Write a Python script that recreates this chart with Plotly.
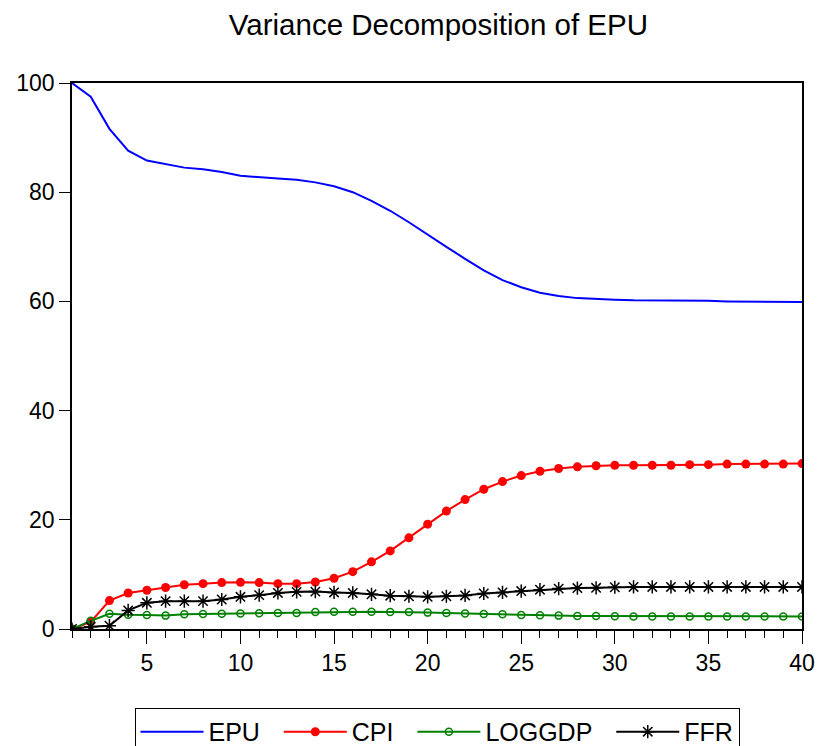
import plotly.graph_objects as go

periods = list(range(1, 41))

epu = [100.0, 97.5, 91.6, 87.6, 85.8, 85.1, 84.5, 84.2, 83.7, 83.0,
       82.7, 82.5, 82.3, 81.8, 81.1, 80.0, 78.4, 76.6, 74.5, 72.2,
       70.0, 67.8, 65.7, 63.9, 62.6, 61.6, 61.0, 60.6, 60.4, 60.3,
       60.2, 60.2, 60.2, 60.1, 60.1, 60.0, 60.0, 60.0, 60.0, 59.9]

cpi = [0.0, 1.3, 5.2, 6.6, 7.1, 7.6, 8.1, 8.3, 8.5, 8.55,
       8.5, 8.3, 8.3, 8.6, 9.3, 10.5, 12.3, 14.3, 16.7, 19.2,
       21.6, 23.7, 25.6, 27.0, 28.1, 28.9, 29.4, 29.7, 29.9, 30.0,
       30.0, 30.0, 30.0, 30.1, 30.1, 30.2, 30.2, 30.2, 30.2, 30.3]

loggdp = [0.0, 1.5, 2.8, 2.6, 2.55, 2.45, 2.7, 2.75, 2.8, 2.85,
          2.9, 2.95, 2.95, 3.1, 3.15, 3.15, 3.15, 3.1, 3.1, 3.0,
          2.95, 2.85, 2.75, 2.7, 2.55, 2.5, 2.45, 2.4, 2.4, 2.35,
          2.3, 2.3, 2.3, 2.3, 2.3, 2.3, 2.3, 2.3, 2.3, 2.3]

ffr = [0.0, 0.4, 0.6, 3.4, 4.8, 5.1, 5.1, 5.1, 5.4, 5.9,
       6.2, 6.6, 6.8, 6.85, 6.7, 6.6, 6.35, 6.1, 6.0, 5.9,
       6.0, 6.15, 6.5, 6.7, 6.95, 7.2, 7.4, 7.5, 7.55, 7.65,
       7.7, 7.7, 7.7, 7.7, 7.7, 7.7, 7.7, 7.7, 7.7, 7.7]

series_names = ["EPU", "CPI", "LOGGDP", "FFR"]

x_ticks = [5, 10, 15, 20, 25, 30, 35, 40]
y_ticks = [0, 20, 40, 60, 80, 100]

FONT = "Liberation Sans, Arial, sans-serif"
PAD = "\u00a0\u00a0"  # spacing after legend labels

fig = go.Figure()
fig.add_trace(go.Scatter(x=periods, y=epu, name=series_names[0] + PAD, mode="lines",
                         line=dict(color="#0000ff", width=2)))
fig.add_trace(go.Scatter(x=periods, y=cpi, name=series_names[1] + PAD, mode="lines+markers",
                         line=dict(color="#ff0000", width=2),
                         marker=dict(symbol="circle", size=9, color="#ff0000")))
fig.add_trace(go.Scatter(x=periods, y=loggdp, name=series_names[2] + PAD, mode="lines+markers",
                         line=dict(color="#008000", width=2),
                         marker=dict(symbol="circle-open", size=7, color="#008000",
                                     line=dict(width=1.5, color="#008000"))))
fig.add_trace(go.Scatter(x=periods, y=ffr, name=series_names[3], mode="lines+markers",
                         line=dict(color="#000000", width=2),
                         marker=dict(symbol="asterisk-open", size=11, color="#000000",
                                     line=dict(width=1.5, color="#000000"))))

fig.update_layout(
    width=821, height=746,
    margin=dict(l=72, r=19, t=83, b=117, autoexpand=False),
    paper_bgcolor="white", plot_bgcolor="white",
    font=dict(family=FONT, color="black", size=23),
    title=dict(text="Variance Decomposition of EPU", x=0.534, xanchor="center",
               y=0.967, yanchor="middle", font=dict(size=29.5, family=FONT, color="black")),
    showlegend=True,
    legend=dict(orientation="h", x=0.5, xanchor="center",
                yref="container", y=0.051, yanchor="top",
                bordercolor="black", borderwidth=1, bgcolor="white",
                font=dict(size=25, family=FONT, color="black"),
                itemwidth=63, traceorder="normal"),
)
fig.update_xaxes(range=[1, 40], tickvals=x_ticks, ticks="outside", ticklen=13,
                 tickwidth=1.3, tickcolor="black", showgrid=False, zeroline=False,
                 showline=True, linecolor="black", linewidth=1.5, mirror=True,
                 automargin=False,
                 minor=dict(dtick=1, tick0=0, ticks="outside", ticklen=7,
                            tickwidth=1, tickcolor="black", showgrid=False),
                 tickfont=dict(size=23, family=FONT, color="black"))
fig.update_yaxes(range=[0, 100], tickvals=y_ticks, ticks="outside", ticklen=11,
                 tickwidth=1.3, tickcolor="black", showgrid=False, zeroline=False,
                 showline=True, linecolor="black", linewidth=1.5, mirror=True,
                 automargin=False,
                 tickfont=dict(size=23, family=FONT, color="black"))

fig.write_html("out.html")
